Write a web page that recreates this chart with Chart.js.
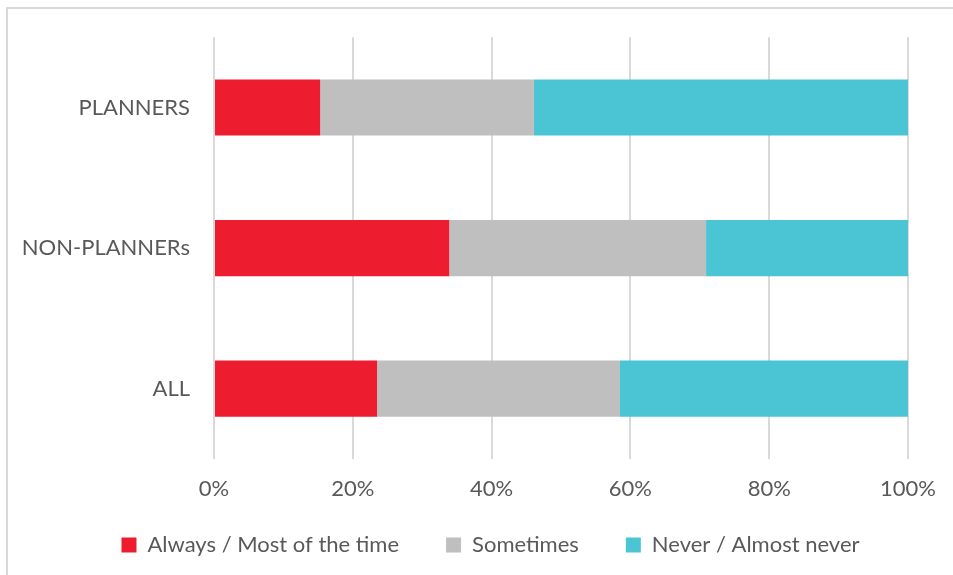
<!DOCTYPE html>
<html>
<head>
<meta charset="utf-8">
<script src="https://cdn.jsdelivr.net/npm/chart.js@4"></script>
<style>
  html, body { margin: 0; padding: 0; background: #fff; }
  #wrap { position: relative; width: 953px; height: 575px; overflow: hidden; }
  #frame { position: absolute; left: 6px; top: 7px; width: 1000px; height: 1000px;
           border-left: 2px solid #d9d9d9; border-top: 2px solid #d9d9d9; box-sizing: border-box; }
  #c { position: absolute; left: 0; top: 0; }
</style>
</head>
<body>
<div id="wrap">
  <div id="frame"></div>
  <canvas id="c" width="953" height="575"></canvas>
</div>
<script>
const categories = ["PLANNERS", "NON-PLANNERs", "ALL"];
const seriesNames = ["Always / Most of the time", "Sometimes", "Never / Almost never"];
const alwaysValues = [15.3, 33.9, 23.5];
const sometimesValues = [30.8, 37.0, 35.0];
const neverValues = [53.9, 29.1, 41.5];
const tickValues = [0, 20, 40, 60, 80, 100];

const FONT = "Lato";
const TEXT = "#595959";
const PAD_LEFT = 70;
const LEGEND_GAP = 47;

// Tick labels may spill outside the (deliberately narrow) axis boxes, so skip label clipping.
const noLabelClip = s => { s._computeLabelArea = () => undefined; };

new Chart(document.getElementById("c"), {
  type: "bar",
  data: {
    labels: categories,
    datasets: [
      { label: seriesNames[0], data: alwaysValues, backgroundColor: "#ed1c2e" },
      { label: seriesNames[1], data: sometimesValues, backgroundColor: "#bfbfbf" },
      { label: seriesNames[2], data: neverValues, backgroundColor: "#4bc4d4" }
    ]
  },
  options: {
    indexAxis: "y",
    responsive: false,
    animation: false,
    devicePixelRatio: 1,
    layout: { padding: { top: 37, right: 42, left: PAD_LEFT, bottom: 9 } },
    datasets: { bar: { categoryPercentage: 1, barPercentage: 0.4, borderWidth: 0 } },
    scales: {
      x: {
        stacked: true,
        min: 0, max: 100,
        afterBuildTicks: s => { s.ticks = tickValues.map(v => ({ value: v })); },
        afterFit: s => { s.height = 75 - LEGEND_GAP; noLabelClip(s); },
        grid: { color: "#d9d9d9", lineWidth: 2, drawTicks: false },
        border: { display: false },
        ticks: { color: TEXT, font: { family: FONT, size: 22 }, padding: 17,
                 callback: v => v + "%" }
      },
      y: {
        stacked: true,
        afterFit: s => { s.width = 214 - PAD_LEFT; noLabelClip(s); },
        grid: { display: false, drawTicks: false },
        border: { display: false },
        ticks: { color: TEXT, font: { family: FONT, size: 22 }, padding: 24 }
      }
    },
    plugins: {
      legend: {
        position: "bottom",
        labels: { color: TEXT, font: { family: FONT, size: 22 }, boxWidth: 15, boxHeight: 15, padding: LEGEND_GAP }
      },
      tooltip: { enabled: false }
    }
  }
});
</script>
</body>
</html>
